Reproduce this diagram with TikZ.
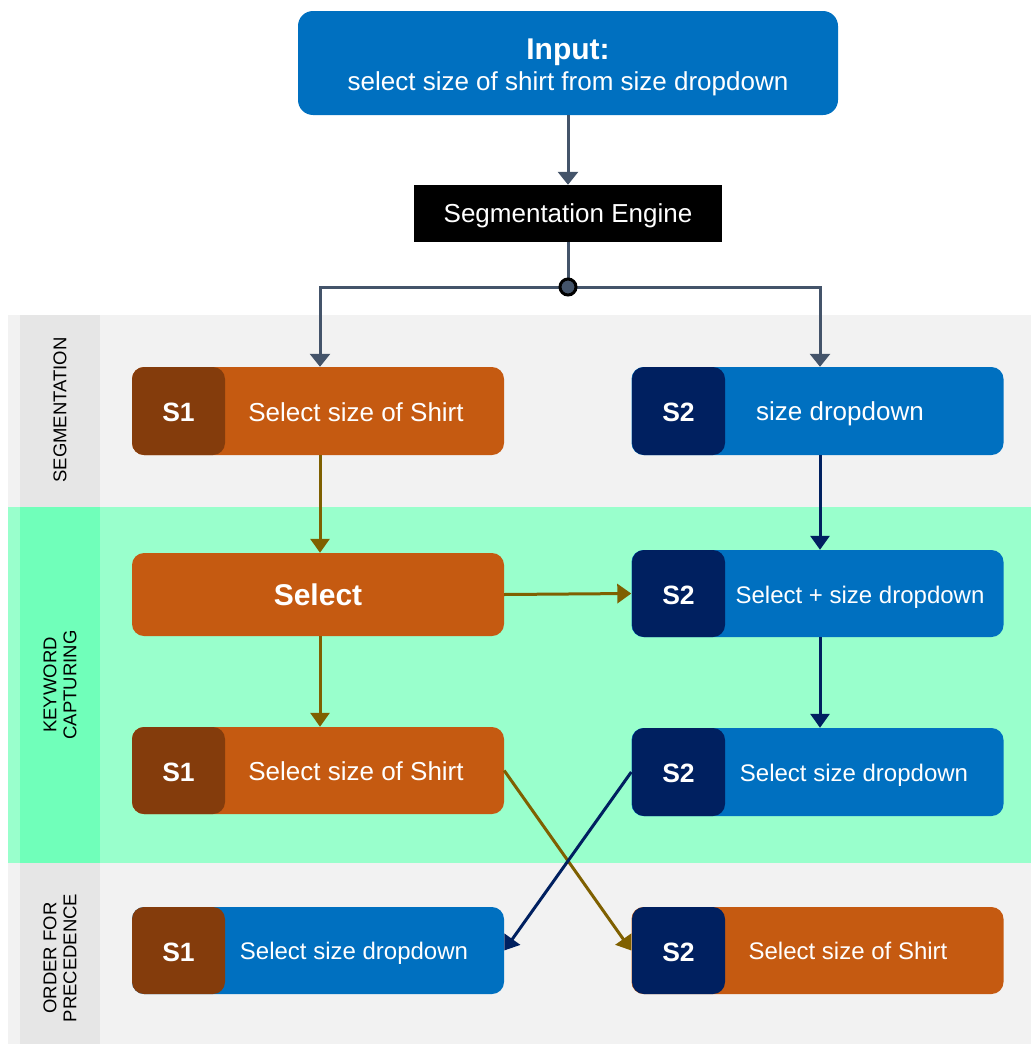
\documentclass[tikz,border=0pt]{standalone}
\usepackage{fontspec}
\setmainfont{Liberation Sans}
\usetikzlibrary{arrows.meta}
\definecolor{cblue}{HTML}{0070C0}
\definecolor{cnavy}{HTML}{002060}
\definecolor{corange}{HTML}{C55A11}
\definecolor{cbrown}{HTML}{843C0C}
\definecolor{colive}{HTML}{7F6000}
\definecolor{cslate}{HTML}{44546A}
\definecolor{cband}{HTML}{F2F2F2}
\definecolor{ccol}{HTML}{E6E6E6}
\definecolor{cmint}{HTML}{99FFCC}
\definecolor{cmintd}{HTML}{70FFBA}
\tikzset{
  bodybox/.style={rounded corners=12pt, minimum width=372pt, minimum height=88pt, inner sep=0pt, fill=#1, text height=21.5pt, text depth=0pt},
  tagbox/.style={rounded corners=12pt, minimum width=93pt, minimum height=88pt, inner sep=0pt, fill=#1, text=white, font=\fontsize{26.5}{30}\selectfont\bfseries, text height=21pt, text depth=0pt},
  btxt/.style={text=white, inner sep=0pt, font=\fontsize{#1}{#1}\selectfont, text height=\fpeval{0.716*#1}pt, text depth=0pt},
  lane/.style={rotate=90, align=center, inner sep=0pt, font=\fontsize{18.5}{20}\selectfont},
  flow/.style={line width=3pt, draw=#1, -{Triangle[width=19pt,length=14pt]}},
}
\begin{document}
\begin{tikzpicture}[x=1pt,y=-1pt]
\useasboundingbox (0,0) rectangle (1031,1044);
% bands
\fill[cband] (8,315) rectangle (1031,507);
\fill[ccol] (20,315) rectangle (100,507);
\fill[cmint] (8,507) rectangle (1031,863);
\fill[cmintd] (20,507) rectangle (100,863);
\fill[cband] (8,863) rectangle (1031,1044);
\fill[ccol] (20,863) rectangle (100,1044);
\node[lane] (lseg) at (60,410) {SEGMENTATION};
\node[lane] (lkey) at (60,685) {KEYWORD\\CAPTURING};
\node[lane] (lord) at (60,958) {ORDER FOR\\PRECEDENCE};
% input
\node[rounded corners=15pt, fill=cblue, minimum width=540pt, minimum height=104pt, inner sep=0pt] (inp) at (568,63) {};
\node[btxt=30, font=\fontsize{30}{30}\selectfont\bfseries] (inpt) at (568,49) {Input:};
\node[btxt=26] (inps) at (568,81) {select size of shirt from size dropdown};
% engine
\node[fill=black, minimum width=308pt, minimum height=57pt, inner sep=0pt, text=white, font=\fontsize{26}{30}\selectfont, text height=18.6pt, text depth=0pt] (eng) at (568,213.5) {Segmentation Engine};
\coordinate (dot) at (568,287);
% row 1
\node[bodybox=corange] (s1a) at (318,411) {};
\node[tagbox=cbrown] (t1a) at (178.5,411) {S1};
\node[btxt=26] (x1a) at (356,412) {Select size of Shirt};
\node[bodybox=cblue] (s2a) at (817.5,411) {};
\node[tagbox=cnavy] (t2a) at (678.5,411) {S2};
\node[btxt=26] (x2a) at (840,411) {size dropdown};
% row 2
\node[bodybox=corange, minimum height=83pt, text=white, font=\fontsize{30}{30}\selectfont\bfseries] (sel) at (318,594.5) {Select};
\node[bodybox=cblue, minimum height=87pt] (s2b) at (817.5,593.5) {};
\node[tagbox=cnavy, minimum height=87pt] (t2b) at (678.5,593.5) {S2};
\node[btxt=24] (x2b) at (860,595) {Select + size dropdown};
% row 3
\node[bodybox=corange, minimum height=87pt] (s1c) at (318,770.5) {};
\node[tagbox=cbrown, minimum height=87pt] (t1c) at (178.5,770.5) {S1};
\node[btxt=26] (x1c) at (356,771) {Select size of Shirt};
\node[bodybox=cblue] (s2c) at (817.5,772) {};
\node[tagbox=cnavy] (t2c) at (678.5,772) {S2};
\node[btxt=24] (x2c) at (854,773) {Select size dropdown};
% row 4
\node[bodybox=cblue, minimum height=87pt] (s1d) at (318,950.5) {};
\node[tagbox=cbrown, minimum height=87pt] (t1d) at (178.5,950.5) {S1};
\node[btxt=24] (x1d) at (354,951) {Select size dropdown};
\node[bodybox=corange, minimum height=87pt] (s2d) at (817.5,950.5) {};
\node[tagbox=cnavy, minimum height=87pt] (t2d) at (678.5,950.5) {S2};
\node[btxt=24] (x2d) at (848,951) {Select size of Shirt};
% connectors top
\draw[line width=3pt, draw=cslate, -{Triangle[width=20pt,length=13pt]}] (inp.south) -- (eng.north);
\draw[line width=3pt, draw=cslate] (eng.south) -- (dot);
\draw[line width=3pt, draw=cslate, -{Triangle[width=20pt,length=13pt]}] (dot) -| ([xshift=2pt]s1a.north);
\draw[line width=3pt, draw=cslate, -{Triangle[width=20pt,length=13pt]}] (dot) -| ([xshift=2.5pt]s2a.north);
\filldraw[fill=cslate, draw=black, line width=3pt] (dot) circle (8pt);
% flows
\draw[flow=colive] ([xshift=2pt]s1a.south) -- ([xshift=2pt]sel.north);
\draw[flow=colive] ([xshift=2pt]sel.south) -- ([xshift=2pt]s1c.north);
\draw[flow=colive] (sel.east) -- (s2b.west);
\draw[flow=cnavy] ([xshift=2.5pt]s2a.south) -- ([xshift=2.5pt]s2b.north);
\draw[flow=cnavy] ([xshift=2.5pt]s2b.south) -- ([xshift=2.5pt]s2c.north);
\draw[flow=colive] (s1c.east) -- (s2d.west);
\draw[flow=cnavy] (s2c.west) -- (s1d.east);
\end{tikzpicture}
\end{document}
